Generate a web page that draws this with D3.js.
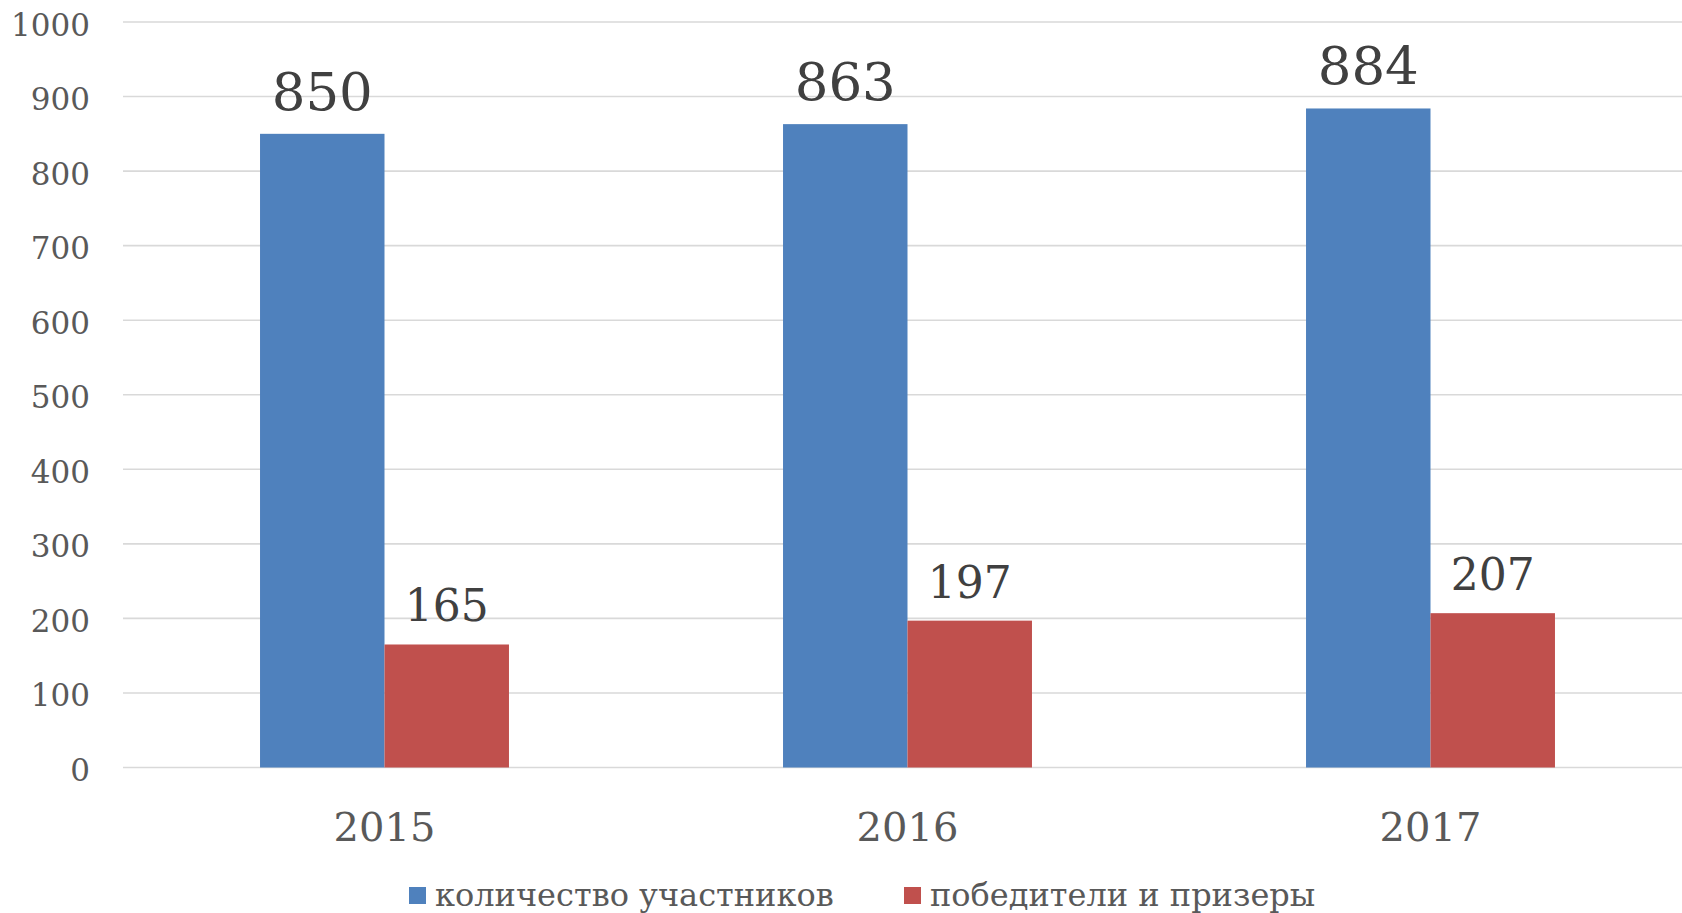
<!DOCTYPE html>
<html>
<head>
<meta charset="utf-8">
<script src="https://cdnjs.cloudflare.com/ajax/libs/d3/7.8.5/d3.min.js"></script>
<style>
    html, body { margin:0; padding:0; background:#fff; }
    .canvas { width:1682px; height:913px; }
    text { font-family:'DejaVu Serif', 'Liberation Serif', serif; }
</style>
</head>
<body>
<div class="canvas" id="canvas"></div>
<script>
//data
var years = ['2015','2016','2017'];
var participants = [850, 863, 884];
var winners = [165, 197, 207];
var seriesNames = ['количество участников', 'победители и призеры'];
var yTicks = [0,100,200,300,400,500,600,700,800,900,1000];

var outerWidth = 1682,
    outerHeight = 913;
var m = {t:22,l:123};

var svg = d3.select('.canvas')
    .append('svg')
    .attr('width',outerWidth)
    .attr('height',outerHeight);

var colors = ['#4f81bd','#c0504d'];

var scaleY = d3.scaleLinear()
    .domain([0,1000])
    .range([767.5,m.t]);

var scaleX = d3.scaleBand()
    .domain(years)
    .range([m.l,1692])
    .paddingInner(0.524)
    .paddingOuter(0.262);

var scaleSeries = d3.scaleBand()
    .domain([0,1])
    .range([0,scaleX.bandwidth()]);

//gridlines
svg.append('g')
    .attr('class','grid')
    .selectAll('line')
    .data(yTicks)
    .enter()
    .append('line')
    .attr('x1',m.l)
    .attr('x2',outerWidth)
    .attr('y1',function(d){return scaleY(d);})
    .attr('y2',function(d){return scaleY(d);})
    .style('stroke','#d9d9d9')
    .style('stroke-width',1.6);

//y axis labels
var axisY = d3.axisLeft()
    .scale(scaleY)
    .tickValues(yTicks)
    .tickFormat(d3.format('d'))
    .tickSize(0)
    .tickPadding(33);

svg.append('g')
    .attr('class','axis axis-y')
    .attr('transform','translate(' + m.l + ',0)')
    .call(axisY)
    .call(function(g){
        g.select('.domain').remove();
        g.selectAll('text')
            .attr('dy',13)
            .style('font-size','31px')
            .style('fill','#595959');
    });

//x axis labels
var axisX = d3.axisBottom()
    .scale(scaleX)
    .tickSize(0)
    .tickPadding(0);

svg.append('g')
    .attr('class','axis axis-x')
    .attr('transform','translate(0,767.5)')
    .call(axisX)
    .call(function(g){
        g.select('.domain').remove();
        g.selectAll('text')
            .attr('y',73)
            .attr('dy',0)
            .style('font-size','40px')
            .style('fill','#595959');
    });

//bars
var rows = years.map(function(y,i){
    return {year:y, values:[participants[i], winners[i]]};
});

var groups = svg.selectAll('.year')
    .data(rows)
    .enter()
    .append('g')
    .attr('class','year')
    .attr('transform',function(d){return 'translate(' + scaleX(d.year) + ',0)';});

groups.selectAll('rect')
    .data(function(d){return d.values;})
    .enter()
    .append('rect')
    .attr('x',function(d,i){return scaleSeries(i);})
    .attr('y',function(d){return scaleY(d);})
    .attr('width',scaleSeries.bandwidth())
    .attr('height',function(d){return scaleY(0) - scaleY(d);})
    .style('fill',function(d,i){return colors[i];});

//value labels
groups.selectAll('.value')
    .data(function(d){return d.values;})
    .enter()
    .append('text')
    .attr('class','value')
    .attr('x',function(d,i){return scaleSeries(i) + scaleSeries.bandwidth()/2;})
    .attr('y',function(d,i){return scaleY(d) - (i==0 ? 24 : 23);})
    .attr('text-anchor','middle')
    .style('font-size',function(d,i){return i==0 ? '53px' : '44px';})
    .style('fill','#404040')
    .text(function(d){return d;});

//legend
var legendX = [409, 904];
var legend = svg.selectAll('.legend')
    .data(seriesNames)
    .enter()
    .append('g')
    .attr('class','legend')
    .attr('transform',function(d,i){return 'translate(' + legendX[i] + ',0)';});

legend.append('rect')
    .attr('x',0)
    .attr('y',887)
    .attr('width',17)
    .attr('height',17)
    .style('fill',function(d,i){return colors[i];});

legend.append('text')
    .attr('x',26)
    .attr('y',906)
    .style('font-size','32px')
    .style('fill','#595959')
    .text(function(d){return d;});
</script>
</body>
</html>
